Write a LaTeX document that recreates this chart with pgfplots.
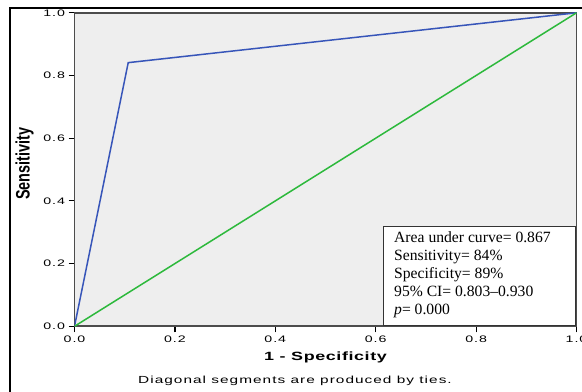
\documentclass[border=0pt]{standalone}
\usepackage{pgfplots}
\pgfplotsset{compat=1.18}
\usepackage{fontspec}
\setmainfont{Liberation Serif}
\newfontfamily\tickfont[FakeStretch=1.5,LetterSpace=10]{Liberation Sans}
\newfontfamily\labfont[FakeStretch=1.5,LetterSpace=5]{Liberation Sans}
\newfontfamily\plainsans{Liberation Sans}
\definecolor{roc}{RGB}{55,85,185}
\definecolor{diag}{RGB}{45,185,60}
\definecolor{bg}{RGB}{238,238,238}
\begin{document}
\begin{tikzpicture}[x=1bp,y=1bp]
\useasboundingbox (0,0) rectangle (582bp,392bp);
\clip (0,0) rectangle (582bp,392bp);
\begin{axis}[
  at={(74.5bp,65.7bp)}, anchor=south west,
  scale only axis, width=502bp, height=313.5bp,
  xmin=0, xmax=1, ymin=0, ymax=1,
  axis background/.style={fill=bg},
  axis line style={draw=black!70, line width=1.6bp},
  tick align=outside, major tick length=6bp,
  tick style={black, line width=1.2bp},
  xtick pos=bottom, ytick pos=left,
  xtick={0,0.2,0.4,0.6,0.8,1}, ytick={0,0.2,0.4,0.6,0.8,1},
  xticklabels={0.0,0.2,0.4,0.6,0.8,1.0},
  yticklabels={0.0,0.2,0.4,0.6,0.8,1.0},
  ticklabel style={font=\tickfont\fontsize{9.5}{10}\selectfont},
  xlabel={\labfont\bfseries\fontsize{12}{14}\selectfont 1 - Specificity},
  ylabel={\scalebox{1}[1.35]{\plainsans\bfseries\fontsize{14.5}{16}\selectfont Sensitivity}},
  xlabel style={at={(axis description cs:0.5,-0.099)}, anchor=center},
  ylabel style={at={(axis description cs:-0.0995,0.519)}, anchor=center},
]
\addplot[roc, line width=1.5bp] coordinates {(0,0) (0.107,0.841) (1,1)};
\addplot[diag, line width=1.5bp] coordinates {(0,0) (1,1)};
\end{axis}
\draw[black!80, line width=1bp, fill=white] (383.5bp,66bp) rectangle (575.5bp,165bp);
\begin{scope}[every node/.style={anchor=base west, inner sep=0pt, font=\fontsize{15.7}{18}\selectfont}]
\node at (394bp,149bp) {Area under curve= 0.867};
\node at (394bp,131bp) {Sensitivity= 84\%};
\node at (394bp,113bp) {Specificity= 89\%};
\node at (394bp,95bp) {95\% CI= 0.803--0.930};
\node at (394bp,77bp) {\textit{p}= 0.000};
\end{scope}
\draw[black, line width=2.2bp] (9.8bp,-5bp) -- (9.8bp,384.2bp) -- (600bp,384.2bp);
\node[font=\tickfont\fontsize{10.3}{12}\selectfont] at (295bp,11bp) {Diagonal segments are produced by ties.};
\end{tikzpicture}
\end{document}
